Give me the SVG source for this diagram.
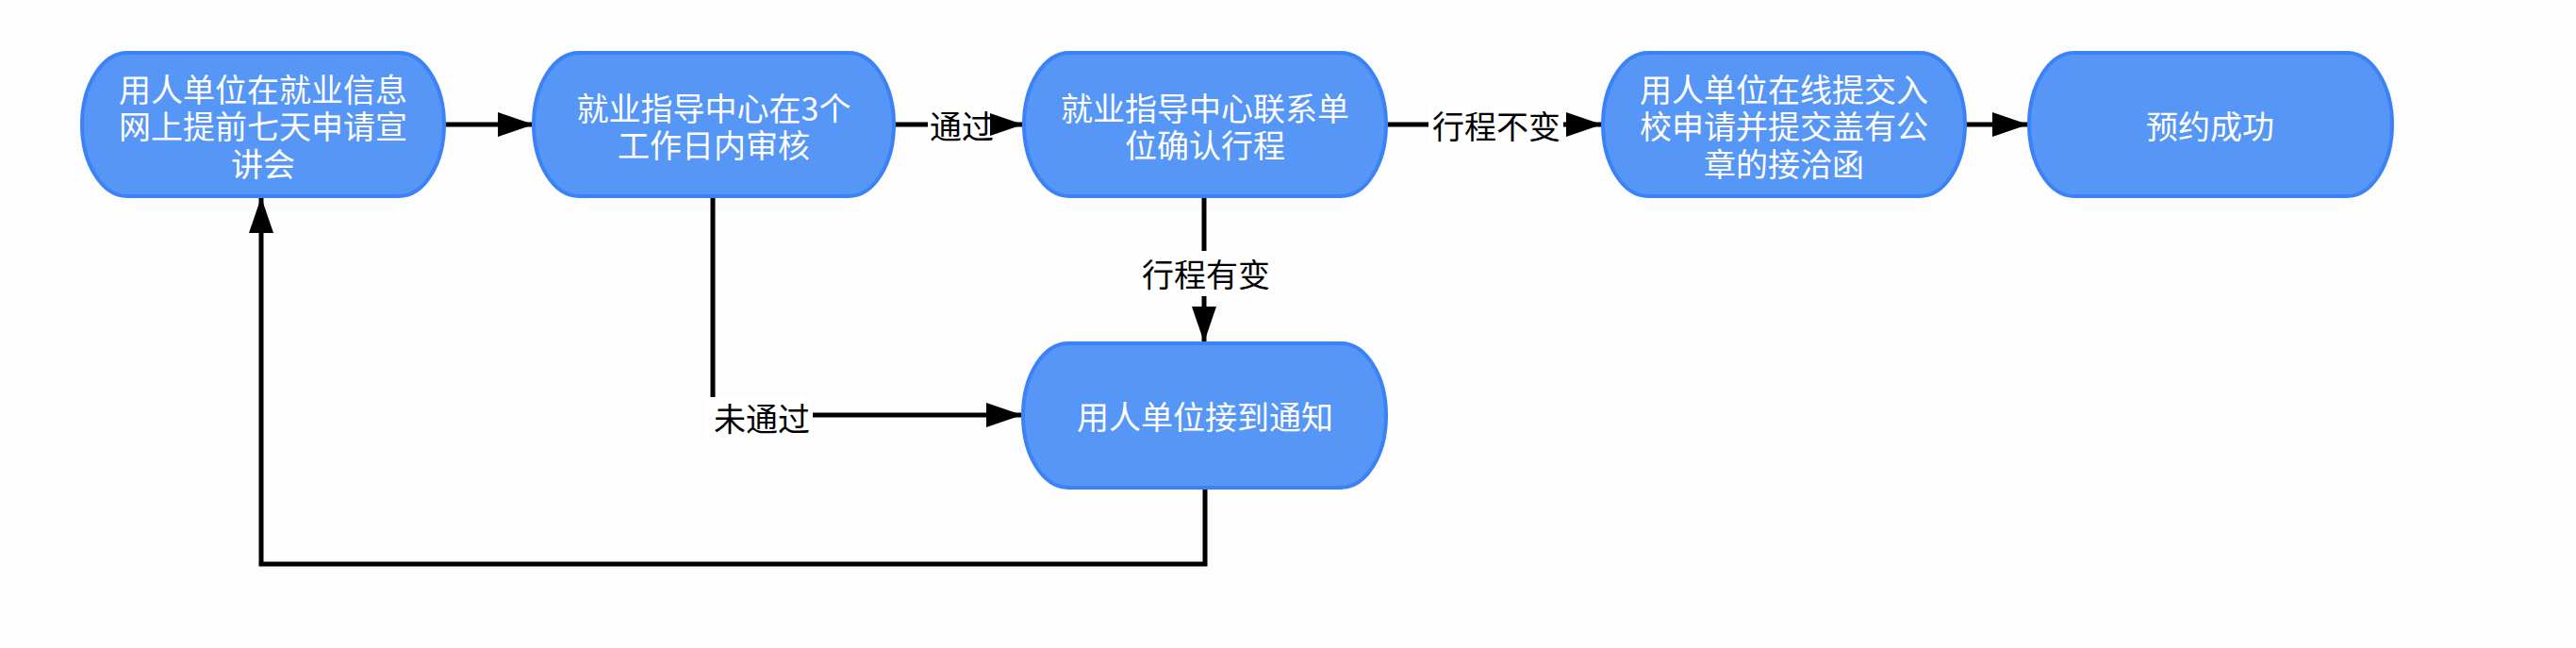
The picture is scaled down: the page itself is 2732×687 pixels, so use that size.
<svg xmlns="http://www.w3.org/2000/svg" width="2732" height="687" viewBox="0 0 2732 687">
<style>
.node rect{fill:#5596f6;stroke:#3b82f6;stroke-width:4}
.node text{fill:#ffffff;font-family:"Noto Sans CJK SC","Noto Sans",sans-serif;font-size:34px;text-anchor:middle;dominant-baseline:central}
.conn path{fill:none;stroke:#000;stroke-width:5}
.lbg{fill:#ffffff}
.lbl{fill:#000;font-family:"Noto Sans CJK SC","Noto Sans",sans-serif;font-size:34px;text-anchor:middle;dominant-baseline:central}
</style>
<defs>
<marker id="ah" viewBox="0 0 38 26" refX="38" refY="13" markerWidth="38" markerHeight="26" markerUnits="userSpaceOnUse" orient="auto">
<path d="M0,0 L38,13 L0,26 z" fill="#000"/>
</marker>
</defs>
<rect x="0" y="0" width="2732" height="687" fill="#fdfdfd"/>
<g id="connectors" class="conn">
<path d="M471,132 L566,132" marker-end="url(#ah)"/>
<path d="M948,132 L1085,132" marker-end="url(#ah)"/>
<path d="M1470,132 L1699,132" marker-end="url(#ah)"/>
<path d="M2084,132 L2151,132" marker-end="url(#ah)"/>
<path d="M1277,208 L1277,363" marker-end="url(#ah)"/>
<path d="M756,208 L756,440 L1084,440" marker-end="url(#ah)"/>
<path d="M1278,517 L1278,598 L277,598 L277,209" marker-end="url(#ah)"/>
</g>
<g id="labels">
<rect class="lbg" x="984" y="112" width="66" height="40"/>
<text class="lbl" x="1020" y="132">通过</text>
<rect class="lbg" x="1515" y="112" width="143" height="40"/>
<text class="lbl" x="1587" y="132">行程不变</text>
<rect class="lbg" x="1208" y="266" width="142" height="48"/>
<text class="lbl" x="1279" y="289">行程有变</text>
<rect class="lbg" x="750" y="421" width="112" height="44"/>
<text class="lbl" x="808" y="442">未通过</text>
</g>
<g id="n1" class="node">
<rect x="87" y="56" width="384" height="152" rx="48" ry="76"/>
<text x="279" y="93">用人单位在就业信息</text>
<text x="279" y="132">网上提前七天申请宣</text>
<text x="279" y="172">讲会</text>
</g>
<g id="n2" class="node">
<rect x="566" y="56" width="382" height="152" rx="48" ry="76"/>
<text x="757" y="113">就业指导中心在3个</text>
<text x="757" y="152">工作日内审核</text>
</g>
<g id="n3" class="node">
<rect x="1086" y="56" width="384" height="152" rx="48" ry="76"/>
<text x="1278" y="113">就业指导中心联系单</text>
<text x="1278" y="152">位确认行程</text>
</g>
<g id="n4" class="node">
<rect x="1700" y="56" width="384" height="152" rx="48" ry="76"/>
<text x="1892" y="93">用人单位在线提交入</text>
<text x="1892" y="132">校申请并提交盖有公</text>
<text x="1892" y="172">章的接洽函</text>
</g>
<g id="n5" class="node">
<rect x="2152" y="56" width="385" height="152" rx="48" ry="76"/>
<text x="2344" y="132">预约成功</text>
</g>
<g id="n6" class="node">
<rect x="1085" y="364" width="385" height="153" rx="48" ry="76"/>
<text x="1278" y="440">用人单位接到通知</text>
</g>
</svg>
